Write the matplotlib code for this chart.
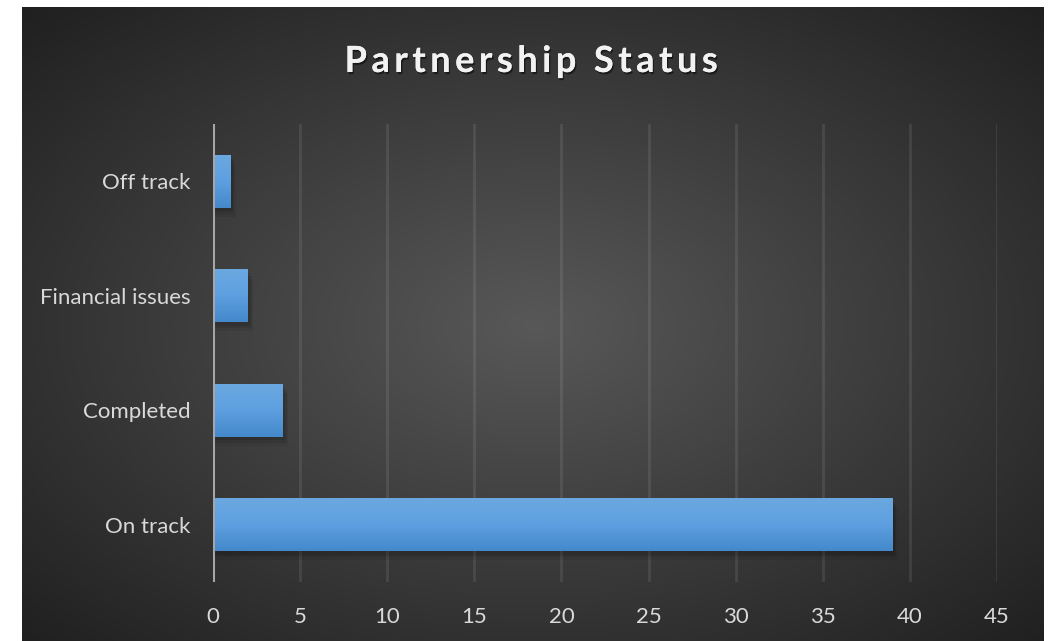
import matplotlib.pyplot as plt
import numpy as np
import matplotlib.patheffects as pe
from matplotlib.colors import LinearSegmentedColormap

categories = ['On track', 'Completed', 'Financial issues', 'Off track']
values = [39, 4, 2, 1]
xticks = [0, 5, 10, 15, 20, 25, 30, 35, 40, 45]
title = 'Partnership Status'

W, H = 1051, 641
fig = plt.figure(figsize=(W / 100, H / 100), dpi=100)
fig.patch.set_facecolor('white')

# dark radial background (chart area)
bg = fig.add_axes([22 / W, 0, (1044 - 22) / W, (641 - 7) / H])
yy, xx = np.mgrid[0:200, 0:320]
r = np.sqrt(((xx - 160) / 160) ** 2 + ((yy - 100) / 100) ** 2) / np.sqrt(2)
shade = 0.345 - 0.22 * r
bg.imshow(np.dstack([shade, shade, shade]), aspect='auto', interpolation='bilinear')
bg.set_axis_off()

# plot area
ax = fig.add_axes([213 / W, (H - 582) / H, (997 - 213) / W, (582 - 124) / H])
ax.patch.set_alpha(0)

for x in xticks[1:]:
    ax.axvline(x, color='white', alpha=0.09, lw=2, zorder=1)
ax.axvline(0, color='#a6a6a6', lw=2.2, zorder=4)

bar_h = 0.46
grad = LinearSegmentedColormap.from_list('bar', ['#4489cb', '#5d9fe0', '#6ba8e0'])
g = np.linspace(0, 1, 64).reshape(-1, 1)
for i, v in enumerate(values):
    # soft shadow
    for k, a in enumerate([0.10, 0.08, 0.06]):
        off = 0.03 + k * 0.025
        ax.add_patch(plt.Rectangle((0, i - bar_h / 2 - off), v + 0.15 + k * 0.08, bar_h,
                                   color='black', alpha=a, lw=0, zorder=2))
    ax.imshow(g, cmap=grad, aspect='auto', origin='lower',
              extent=[0, v, i - bar_h / 2, i + bar_h / 2], zorder=3)

ax.set_xlim(0, 45)
ax.set_ylim(-0.5, len(categories) - 0.5)
ax.set_yticks(range(len(categories)))
ax.set_yticklabels(categories)
ax.set_xticks(xticks)
for s in ax.spines.values():
    s.set_visible(False)
ax.tick_params(length=0, colors='#d9d9d9', labelsize=16)
ax.tick_params(axis='y', pad=16)
ax.tick_params(axis='x', pad=18)
for lbl in ax.get_xticklabels() + ax.get_yticklabels():
    lbl.set_fontfamily('Lato')
    lbl.set_color('#d9d9d9')

# title with wide letter spacing
fig.text(531 / W, (H - 72) / H, '\u2009'.join(title).replace('\u2009 \u2009', '  '),
         ha='center', va='baseline', fontsize=26, fontweight='bold',
         color='#f2f2f2', family='Lato',
         path_effects=[pe.withSimplePatchShadow(offset=(1, -1.5), shadow_rgbFace='black', alpha=0.5),
                       pe.Normal()])

fig.savefig('out.png', dpi=100)
